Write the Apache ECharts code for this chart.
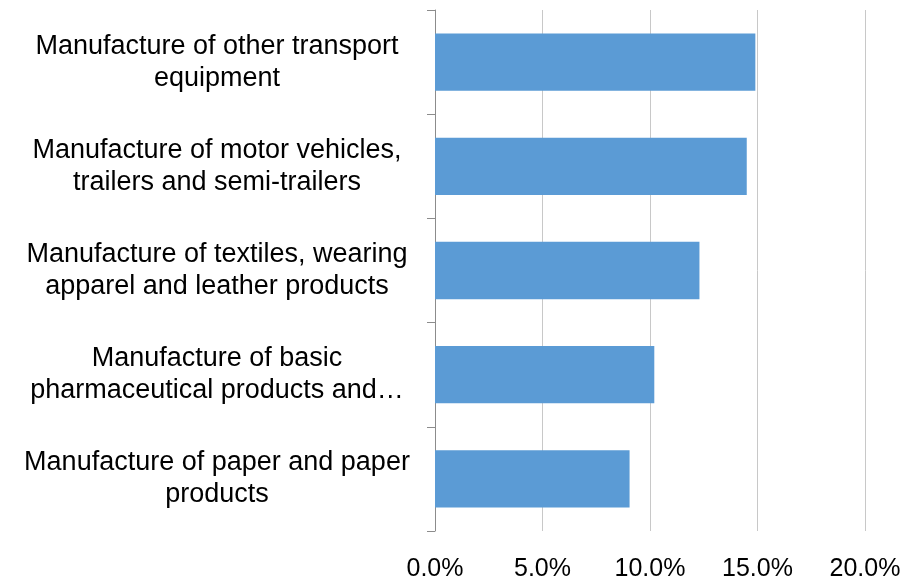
<!DOCTYPE html>
<html>
<head>
<meta charset="utf-8">
<script src="https://cdn.jsdelivr.net/npm/echarts@6/dist/echarts.min.js"></script>
<style>
  html, body { margin: 0; padding: 0; background: #ffffff; }
  #chart { width: 904px; height: 580px; }
</style>
</head>
<body>
<div id="chart"></div>
<script>
// Industry categories, top to bottom
const categories = [
  'Manufacture of other transport\nequipment',
  'Manufacture of motor vehicles,\ntrailers and semi-trailers',
  'Manufacture of textiles, wearing\napparel and leather products',
  'Manufacture of basic\npharmaceutical products and\u2026',
  'Manufacture of paper and paper\nproducts'
];
// Share values in percent
const values = [14.9, 14.5, 12.3, 10.2, 9.05];
// Value axis range and step (percent)
const axisMin = 0;
const axisMax = 20;
const axisStep = 5;

const chart = echarts.init(document.getElementById('chart'), null, { renderer: 'canvas' });
const font = '"Liberation Sans", Arial, sans-serif';

chart.setOption({
  animation: false,
  backgroundColor: '#ffffff',
  grid: { left: 435, right: 39, top: 10, bottom: 49, containLabel: false, outerBoundsMode: 'none' },
  xAxis: {
    type: 'value',
    min: axisMin,
    max: axisMax,
    interval: axisStep,
    axisLine: { show: false },
    axisTick: { show: false },
    splitLine: { show: true, lineStyle: { color: '#c8c8c8', width: 1 } },
    axisLabel: {
      margin: 26,
      color: '#000000',
      fontFamily: font,
      fontSize: 25,
      formatter: v => v.toFixed(1) + '%'
    }
  },
  yAxis: {
    type: 'category',
    inverse: true,
    data: categories,
    axisLine: { show: true, lineStyle: { color: '#8c8c8c', width: 1 } },
    axisTick: { show: true, length: 8, lineStyle: { color: '#8c8c8c' } },
    splitLine: { show: false },
    axisLabel: {
      margin: 218,
      align: 'center',
      color: '#000000',
      fontFamily: font,
      fontSize: 27,
      lineHeight: 32
    }
  },
  series: [{
    type: 'bar',
    data: values,
    barCategoryGap: '45%',
    itemStyle: { color: '#5b9bd5' }
  }]
});
</script>
</body>
</html>
